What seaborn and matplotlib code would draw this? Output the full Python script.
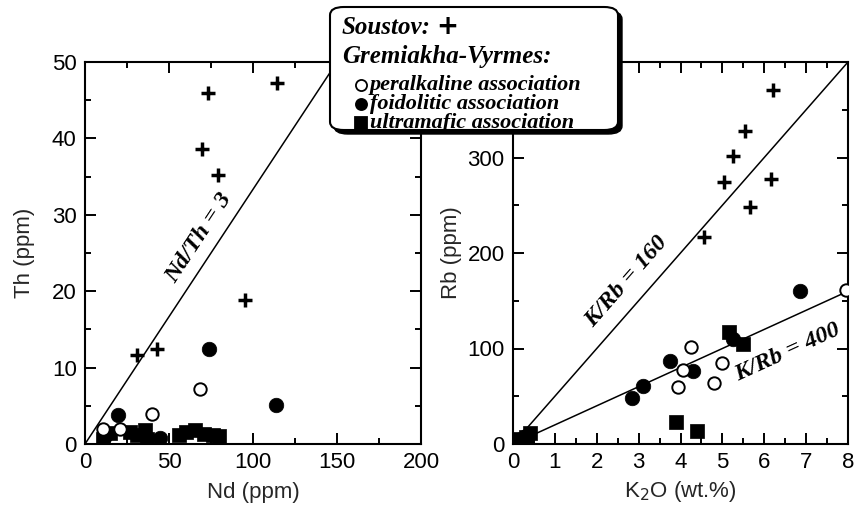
import numpy as np
import pandas as pd
import matplotlib
matplotlib.use("Agg")
import matplotlib.pyplot as plt
import seaborn as sns
from matplotlib.patches import FancyBboxPatch
from matplotlib.lines import Line2D
from matplotlib.ticker import MultipleLocator, FuncFormatter

sns.set_theme(style="ticks")
plt.rcParams["font.family"] = ["Liberation Sans", "DejaVu Sans"]

# ---- Th vs Nd ----
soustov_nd = [114, 73, 69.5, 79, 95, 31, 43]
soustov_th = [47.3, 45.9, 38.6, 35.2, 18.8, 11.7, 12.4]
peralk_nd = [68.5, 40, 10.5, 21]
peralk_th = [7.2, 3.9, 2.0, 2.0]
foid_nd = [74, 113.5, 19.5, 44.5, 12]
foid_th = [12.5, 5.1, 3.8, 0.8, 1.0]
ultra_nd = [11, 15, 27, 31, 36, 37, 56, 60, 65.5, 71, 76, 80]
ultra_th = [0.7, 1.4, 1.6, 1.2, 1.8, 0.7, 1.2, 1.6, 1.8, 1.3, 1.2, 1.0]

# ---- Rb vs K2O ----
soustov_k2o = [6.2, 5.55, 5.25, 5.05, 6.15, 5.65, 4.55]
soustov_rb = [371, 328, 302, 274, 278, 248, 217]
peralk_k2o = [7.95, 4.25, 4.05, 3.95, 5.0, 4.8]
peralk_rb = [161, 102, 77, 60, 85, 64]
foid_k2o = [6.85, 2.85, 3.1, 3.75, 4.3, 5.25, 0.2, 0.3]
foid_rb = [160, 48, 61, 87, 76, 110, 5, 8]
ultra_k2o = [5.15, 5.5, 3.9, 4.4, 0.05, 0.3, 0.4, 0.25, 0.15]
ultra_rb = [117, 105, 23, 14, 3, 7, 12, 2, 5]

# reference ratios
ND_TH = 3
K_RB_HIGH = 160
K_RB_LOW = 400
K_PER_K2O = 8000  # ppm K per wt.% K2O (approx.)

W, H = 865, 508
fig = plt.figure(figsize=(W / 100, H / 100), dpi=100)
ax1 = fig.add_axes([85 / W, 64 / H, 336 / W, 382 / H])
ax2 = fig.add_axes([513 / W, 64 / H, 335 / W, 382 / H])


def draw_groups(ax, x_sets, y_sets):
    (xs, ys), (xp, yp), (xf, yf), (xu, yu) = zip(x_sets, y_sets)
    sns.scatterplot(x=xu, y=yu, ax=ax, marker="s", s=100, color="black",
                    edgecolor="black", linewidth=0.5, zorder=3)
    sns.scatterplot(x=xf, y=yf, ax=ax, marker="o", s=110, color="black",
                    edgecolor="black", linewidth=0.5, zorder=4)
    sns.scatterplot(x=xp, y=yp, ax=ax, marker="o", s=80, facecolor="white",
                    edgecolor="black", linewidth=1.4, zorder=5)
    sns.scatterplot(x=xs, y=ys, ax=ax, marker="+", s=115, color="black",
                    linewidth=2.5, zorder=6)


draw_groups(ax1,
            [soustov_nd, peralk_nd, foid_nd, ultra_nd],
            [soustov_th, peralk_th, foid_th, ultra_th])
draw_groups(ax2,
            [soustov_k2o, peralk_k2o, foid_k2o, ultra_k2o],
            [soustov_rb, peralk_rb, foid_rb, ultra_rb])

# axes styling
for ax in (ax1, ax2):
    for sp in ax.spines.values():
        sp.set_visible(True)
        sp.set_linewidth(1.5)
        sp.set_color("black")
    ax.tick_params(which="both", direction="in", top=True, right=True,
                   colors="black", width=1.4, labelsize=16, pad=6)
    ax.tick_params(which="major", length=8)
    ax.tick_params(which="minor", length=4)
    ax.set_facecolor("white")

ax1.set_xlim(0, 200)
ax1.set_ylim(0, 50)
ax1.xaxis.set_major_locator(MultipleLocator(50))
ax1.xaxis.set_minor_locator(MultipleLocator(25))
ax1.yaxis.set_major_locator(MultipleLocator(10))
ax1.yaxis.set_minor_locator(MultipleLocator(5))
ax1.set_xlabel("Nd (ppm)", fontsize=16, labelpad=6)
ax1.set_ylabel("Th (ppm)", fontsize=16, labelpad=12)

ax2.set_xlim(0, 8)
ax2.set_ylim(0, 400)
ax2.xaxis.set_major_locator(MultipleLocator(1))
ax2.xaxis.set_minor_locator(MultipleLocator(0.5))
ax2.yaxis.set_major_locator(MultipleLocator(100))
ax2.yaxis.set_minor_locator(MultipleLocator(50))
# the top tick sits under the legend box, so it carries no label
ax2.yaxis.set_major_formatter(FuncFormatter(lambda v, p: "" if v >= 400 else f"{v:.0f}"))
ax2.set_xlabel("K$_2$O (wt.%)", fontsize=16, labelpad=4)
ax2.set_ylabel("Rb (ppm)", fontsize=16, labelpad=4)

# reference lines
nd_line = np.array([0, 200])
ax1.plot(nd_line, nd_line / ND_TH, color="black", lw=1.1, zorder=2)
k_line = np.array([0, 8])
ax2.plot(k_line, k_line * K_PER_K2O / K_RB_HIGH, color="black", lw=1.1, zorder=2)
ax2.plot(k_line, k_line * K_PER_K2O / K_RB_LOW, color="black", lw=1.1, zorder=2)


def line_angle(ax, slope):
    p0 = ax.transData.transform((0, 0))
    p1 = ax.transData.transform((1, slope))
    return np.degrees(np.arctan2(p1[1] - p0[1], p1[0] - p0[0]))


lab_font = dict(family=["Liberation Serif", "DejaVu Serif"], style="italic",
                weight="bold", fontsize=17.5, color="black",
                ha="center", va="center", rotation_mode="anchor")
ax1.text(68, 27, "Nd/Th = 3", rotation=line_angle(ax1, 1 / ND_TH), **lab_font)
ax2.text(2.72, 170, "K/Rb = 160",
         rotation=line_angle(ax2, K_PER_K2O / K_RB_HIGH), **lab_font)
ax2.text(6.55, 96, "K/Rb = 400",
         rotation=line_angle(ax2, K_PER_K2O / K_RB_LOW), **lab_font)


# legend box, drawn in figure coordinates
def fx(px):
    return px / W


def fy(py):
    return 1 - py / H


bx0, by0, bx1, by1 = 330, 7, 618, 130
shadow = FancyBboxPatch((fx(bx0 + 4), fy(by1 + 4)), fx(bx1 - bx0), (by1 - by0) / H,
                        boxstyle="round,pad=0,rounding_size=0.016",
                        transform=fig.transFigure, facecolor="black",
                        edgecolor="black", lw=1, zorder=20)
box = FancyBboxPatch((fx(bx0), fy(by1)), fx(bx1 - bx0), (by1 - by0) / H,
                     boxstyle="round,pad=0,rounding_size=0.016",
                     transform=fig.transFigure, facecolor="white",
                     edgecolor="black", lw=1.5, zorder=21)
fig.add_artist(shadow)
fig.add_artist(box)

leg_font = dict(family=["Liberation Serif", "DejaVu Serif"], style="italic",
                weight="bold", color="black", va="center", ha="left", zorder=22)
t_sou = fig.text(fx(342), fy(27), "Soustov:", fontsize=18, **leg_font)
fig.canvas.draw()
sou_right = t_sou.get_window_extent().x1
# heavy plus sign after the site name
fig.text((sou_right + 5) / W, fy(27), "+", fontsize=19, color="black",
         family="DejaVu Sans", weight="bold", va="center", ha="left", zorder=22)
fig.text(fx(342), fy(57), "Gremiakha-Vyrmes:", fontsize=18, **leg_font)
rows = [("peralkaline association", "o", "white", 85),
        ("foidolitic association", "o", "black", 104),
        ("ultramafic association", "s", "black", 123)]
for text, mk, fc, yy in rows:
    fig.add_artist(Line2D([fx(361)], [fy(yy)], marker=mk, markersize=8,
                          markerfacecolor=fc, markeredgecolor="black",
                          markeredgewidth=1.3, linestyle="none",
                          transform=fig.transFigure, zorder=22))
    fig.text(fx(370), fy(yy), text, fontsize=16, **leg_font)

fig.savefig("out.png", dpi=100, facecolor="white")
